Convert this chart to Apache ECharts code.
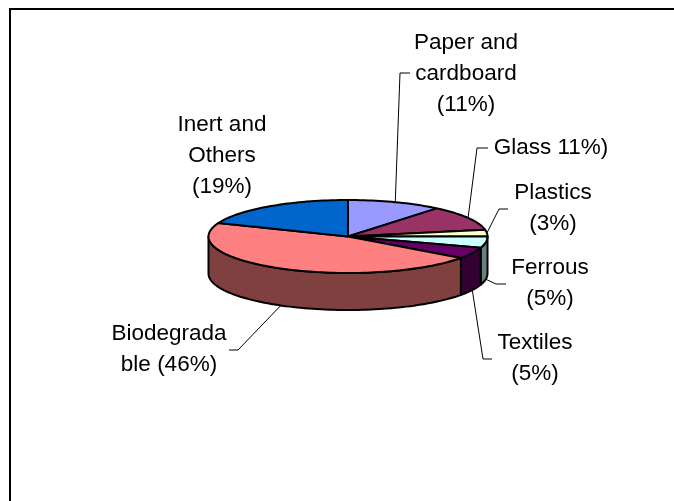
<!DOCTYPE html>
<html>
<head>
<meta charset="utf-8">
<style>
html, body { margin: 0; padding: 0; background: #fff; }
#main { width: 674px; height: 501px; }
</style>
<script src="https://cdn.jsdelivr.net/npm/echarts@6/dist/echarts.min.js"></script>
</head>
<body>
<div id="main"></div>
<script>
var categories = ['Paper and cardboard', 'Glass', 'Plastics', 'Ferrous', 'Textiles', 'Biodegradable', 'Inert and Others'];
var shares = [11, 11, 3, 5, 5, 46, 19];
var labelLines = [
    ['Paper and', 'cardboard', '(11%)'],
    ['Glass 11%)'],
    ['Plastics', '(3%)'],
    ['Ferrous', '(5%)'],
    ['Textiles', '(5%)'],
    ['Biodegrada', 'ble (46%)'],
    ['Inert and', 'Others', '(19%)']
];
var topColors = ['#9999ff', '#993366', '#ffffcc', '#ccffff', '#660066', '#ff8080', '#0066cc'];
var sideColors = ['#4d4d80', '#4d1a33', '#808066', '#668080', '#330033', '#804040', '#003366'];

// layout of the flattened pie
var cx = 348, cy = 236.5, rx = 139.5, ry = 36.5, depth = 37;
// label centre x, first line y, elbow of the leader; wall=true means leader starts under the wall
var labelPos = [
    { x: 466, y: 43, elbow: [[400, 73], [410, 73]] },
    { x: 551, y: 148, elbow: [[477, 148], [488, 148]] },
    { x: 553, y: 193, elbow: [[499, 209], [508, 209]] },
    { x: 550, y: 268, wall: true, elbow: [[496, 284], [506, 284]] },
    { x: 535, y: 343, wall: true, elbow: [[483, 359], [492, 359]] },
    { x: 169, y: 334, wall: true, elbow: [[238, 350], [229, 350]] },
    { x: 222, y: 125 }
];
var lineH = 31;
var fontName = '"Liberation Sans", Arial, sans-serif';

var total = shares.reduce(function (a, b) { return a + b; }, 0);
var chart = echarts.init(document.getElementById('main'));

// cumulative angle, clockwise from 12 o'clock
function angleAt(i) {
    var sum = 0;
    for (var k = 0; k < i; k++) sum += shares[k];
    return sum / total * Math.PI * 2;
}
function rimPoint(a, drop) {
    return [cx + rx * Math.sin(a), cy - ry * Math.cos(a) + (drop || 0)];
}
function arcPoints(a0, a1, drop) {
    var pts = [];
    var n = Math.max(2, Math.ceil((a1 - a0) / 0.03));
    for (var i = 0; i <= n; i++) {
        pts.push(rimPoint(a0 + (a1 - a0) * i / n, drop));
    }
    return pts;
}

var outline = { stroke: '#000', lineWidth: 2, lineJoin: 'round' };
function style(fill) {
    return Object.assign({ fill: fill }, outline);
}

function renderWall(params, api) {
    var i = api.value(0);
    var a0 = angleAt(i), a1 = angleAt(i + 1);
    // only the front half of the rim is visible
    var from = Math.max(a0, Math.PI / 2), to = Math.min(a1, Math.PI * 1.5);
    if (to <= from) return { type: 'group', children: [] };
    var front = arcPoints(from, to, 0);
    var back = arcPoints(from, to, depth).reverse();
    return {
        type: 'polygon',
        shape: { points: front.concat(back) },
        style: style(sideColors[i])
    };
}

function renderTop(params, api) {
    var i = api.value(0);
    var pts = [[cx, cy]].concat(arcPoints(angleAt(i), angleAt(i + 1), 0));
    return {
        type: 'polygon',
        shape: { points: pts },
        style: style(topColors[i])
    };
}

function renderLabel(params, api) {
    var i = api.value(0);
    var pos = labelPos[i];
    var children = [];
    if (pos.elbow) {
        var mid = (angleAt(i) + angleAt(i + 1)) / 2;
        var start = rimPoint(mid, pos.wall ? depth : 0);
        children.push({
            type: 'polyline',
            shape: { points: [start].concat(pos.elbow) },
            style: { fill: null, stroke: '#000', lineWidth: 1 }
        });
    }
    labelLines[i].forEach(function (line, k) {
        children.push({
            type: 'text',
            style: {
                text: line,
                x: pos.x,
                y: pos.y + k * lineH,
                align: 'center',
                verticalAlign: 'middle',
                fill: '#000',
                font: '22.5px ' + fontName
            }
        });
    });
    return { type: 'group', children: children };
}

var rows = categories.map(function (name, i) {
    return { name: name, value: [i, shares[i]] };
});

var option = {
    backgroundColor: '#fff',
    animation: false,
    tooltip: { show: false },
    // the frame only shows on the top and left, it runs off the picture
    graphic: [{
        type: 'polyline',
        shape: { points: [[10, 501], [10, 9], [674, 9]] },
        style: { fill: null, stroke: '#000', lineWidth: 2 },
        silent: true,
        z: -1
    }],
    series: [
        { type: 'custom', coordinateSystem: 'none', renderItem: renderWall, data: rows, z: 2 },
        { type: 'custom', coordinateSystem: 'none', renderItem: renderTop, data: rows, z: 3 },
        { type: 'custom', coordinateSystem: 'none', renderItem: renderLabel, data: rows, z: 4 }
    ]
};
chart.setOption(option);
</script>
</body>
</html>
